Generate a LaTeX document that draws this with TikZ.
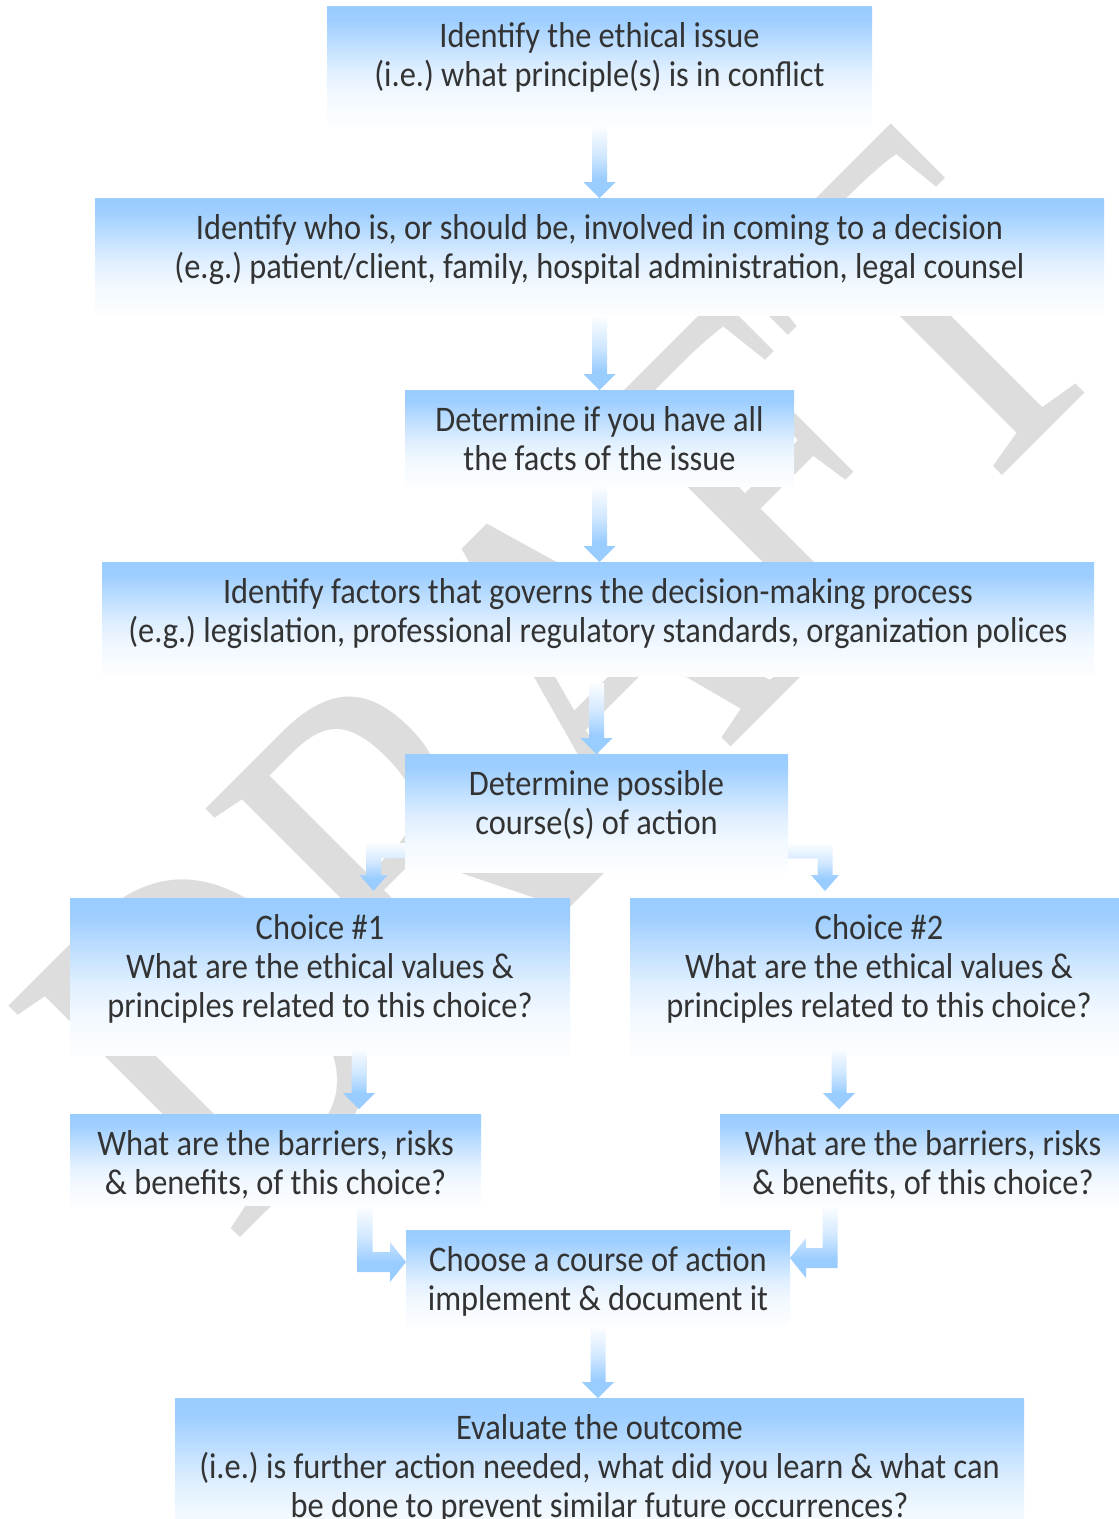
\documentclass[tikz,border=0pt]{standalone}
\usepackage{fontspec}
\setmainfont{Carlito}[FakeStretch=0.90]
\newfontfamily\wmfont{Liberation Serif}[FakeStretch=0.772]
\usetikzlibrary{calc}
\frenchspacing
\definecolor{boxblue}{RGB}{153,204,255}
\definecolor{txtgray}{RGB}{51,51,51}
\definecolor{wmgray}{RGB}{221,221,221}
\colorlet{bsA}{boxblue!95!white}
\colorlet{bsB}{boxblue!62!white}
\colorlet{bsC}{boxblue!30!white}
\colorlet{bsD}{boxblue!12!white}
\colorlet{bsE}{boxblue!3!white}
\colorlet{asA}{boxblue!4!white}
\colorlet{asB}{boxblue!45!white}
\pgfdeclareverticalshading{boxshade}{100bp}{color(0bp)=(bsE); color(25bp)=(bsE); color(37.5bp)=(bsD); color(47.5bp)=(bsC); color(58.5bp)=(bsB); color(69bp)=(bsA); color(75bp)=(boxblue); color(100bp)=(boxblue)}
\pgfdeclareverticalshading{arrowshade}{100bp}{color(0bp)=(boxblue); color(25bp)=(boxblue); color(38bp)=(boxblue); color(55bp)=(asB); color(75bp)=(asA); color(100bp)=(asA)}
\tikzset{
  flowbox/.style={rectangle, inner sep=0pt, outer sep=0pt, shade, shading=boxshade, draw=none, anchor=north west},
  boxtext/.style={align=center, inner sep=0pt, text=txtgray, font=\fontsize{36}{39}\selectfont, anchor=base},
  blockarrow/.style={shade, shading=arrowshade, draw=none},
  watermark/.style={anchor=base west, rotate=45, inner sep=0pt, text=wmgray, font=\wmfont\fontsize{500}{500}\selectfont}
}
% straight block arrow pointing down
\newcommand{\vblock}[2]{\path[blockarrow] let \p1=(#1), \p2=(#2) in
  (\x1-7.5pt,\y1) -- (\x1+7.5pt,\y1) -- (\x1+7.5pt,\y2+16pt) -- (\x1+16pt,\y2+16pt) -- (\x1,\y2)
  -- (\x1-16pt,\y2+16pt) -- (\x1-7.5pt,\y2+16pt) -- cycle;}
% elbow: left then down
\newcommand{\elbowLD}[3]{\path[blockarrow] let \p1=(#1), \p2=(#2), \p3=(#3) in
  (\x1,\y1+7.5pt) -- (\x2-7.5pt,\y1+7.5pt) -- (\x2-7.5pt,\y3+16pt) -- (\x2-14pt,\y3+16pt) -- (\x2,\y3)
  -- (\x2+14pt,\y3+16pt) -- (\x2+7.5pt,\y3+16pt) -- (\x2+7.5pt,\y1-7.5pt) -- (\x1,\y1-7.5pt) -- cycle;}
% elbow: right then down
\newcommand{\elbowRD}[3]{\path[blockarrow] let \p1=(#1), \p2=(#2), \p3=(#3) in
  (\x1,\y1+7.5pt) -- (\x2+7.5pt,\y1+7.5pt) -- (\x2+7.5pt,\y3+16pt) -- (\x2+14pt,\y3+16pt) -- (\x2,\y3)
  -- (\x2-14pt,\y3+16pt) -- (\x2-7.5pt,\y3+16pt) -- (\x2-7.5pt,\y1-7.5pt) -- (\x1,\y1-7.5pt) -- cycle;}
% elbow: down then right
\newcommand{\elbowDR}[3]{\path[blockarrow] let \p1=(#1), \p2=(#2), \p3=(#3) in
  (\x1-7.5pt,\y1) -- (\x1-7.5pt,\y2-10pt) -- (\x3-16pt,\y2-10pt) -- (\x3-16pt,\y2-20pt) -- (\x3,\y2)
  -- (\x3-16pt,\y2+20pt) -- (\x3-16pt,\y2+10pt) -- (\x1+7.5pt,\y2+10pt) -- (\x1+7.5pt,\y1) -- cycle;}
% elbow: down then left
\newcommand{\elbowDL}[3]{\path[blockarrow] let \p1=(#1), \p2=(#2), \p3=(#3) in
  (\x1+7.5pt,\y1) -- (\x1+7.5pt,\y2-10pt) -- (\x3+16pt,\y2-10pt) -- (\x3+16pt,\y2-20pt) -- (\x3,\y2)
  -- (\x3+16pt,\y2+20pt) -- (\x3+16pt,\y2+10pt) -- (\x1-7.5pt,\y2+10pt) -- (\x1-7.5pt,\y1) -- cycle;}
\begin{document}
\begin{tikzpicture}[x=1pt,y=1pt]
\useasboundingbox (0,0) rectangle (1119,-1519);
\clip (0,0) rectangle (1119,-1519);
\fill[white] (0,0) rectangle (1119,-1519);
% watermark
\node[watermark] (wm) at (232,-1246) {DRAFT};
% boxes
\node[flowbox, minimum width=545pt, minimum height=119pt] (b1) at (327,-6) {};
\node[flowbox, minimum width=1009pt, minimum height=117pt] (b2) at (95,-198) {};
\node[flowbox, minimum width=389pt, minimum height=96pt] (b3) at (405,-390) {};
\node[flowbox, minimum width=992pt, minimum height=114pt] (b4) at (102,-562) {};
\node[flowbox, minimum width=383pt, minimum height=118pt] (b5) at (405,-754) {};
\node[flowbox, minimum width=500pt, minimum height=157pt] (b6) at (70,-898) {};
\node[flowbox, minimum width=498pt, minimum height=157pt] (b7) at (630,-898) {};
\node[flowbox, minimum width=411pt, minimum height=91pt] (b8) at (70,-1114) {};
\node[flowbox, minimum width=406pt, minimum height=91pt] (b9) at (720,-1114) {};
\node[flowbox, minimum width=384pt, minimum height=95pt] (b10) at (406,-1230) {};
\node[flowbox, minimum width=849pt, minimum height=157pt] (b11) at (175,-1398) {};
% texts (anchor = baseline of the last line)
\node[boxtext] (t1) at ($(b1.north)+(0,-80.7)$) {Identify the ethical issue\\(i.e.) what principle(s) is in conflict};
\node[boxtext] (t2) at ($(b2.north)+(0,-80.7)$) {Identify who is, or should be, involved in coming to a decision\\(e.g.) patient/client, family, hospital administration, legal counsel};
\node[boxtext] (t3) at ($(b3.north)+(0,-80.7)$) {Determine if you have all\\the facts of the issue};
\node[boxtext] (t4) at ($(b4.north)+(0,-80.7)$) {Identify factors that governs the decision-making process\\(e.g.) legislation, professional regulatory standards, organization polices};
\node[boxtext] (t5) at ($(b5.north)+(0,-80.7)$) {Determine possible\\course(s) of action};
\node[boxtext] (t6) at ($(b6.north)+(0,-119.7)$) {Choice \#1\\What are the ethical values \&\\principles related to this choice?};
\node[boxtext] (t7) at ($(b7.north)+(0,-119.7)$) {Choice \#2\\What are the ethical values \&\\principles related to this choice?};
\node[boxtext] (t8) at ($(b8.north)+(0,-80.7)$) {What are the barriers, risks\\\& benefits, of this choice?};
\node[boxtext] (t9) at ($(b9.north)+(0,-80.7)$) {What are the barriers, risks\\\& benefits, of this choice?};
\node[boxtext] (t10) at ($(b10.north)+(0,-80.7)$) {Choose a course of action\\implement \& document it};
\node[boxtext] (t11) at ($(b11.north)+(0,-119.7)$) {Evaluate the outcome\\(i.e.) is further action needed, what did you learn \& what can\\be done to prevent similar future occurrences?};
% straight arrows
\coordinate (a1s) at ($(b1.south)+(0,-2)$);
\coordinate (a2s) at ($(b2.south)+(0,-2)$);
\coordinate (a3s) at ($(b3.south)+(0,-1)$);
\coordinate (a4s) at ($(b4.south -| b5.north)+(0,-7)$);
\coordinate (a5s) at ($(b6.south)+(39,7)$);
\coordinate (a6s) at ($(b7.south)+(-40,7)$);
\coordinate (a7s) at ($(b10.south)+(0,-3)$);
\vblock{a1s}{a1s |- b2.north}
\vblock{a2s}{a2s |- b3.north}
\vblock{a3s}{a3s |- b4.north}
\vblock{a4s}{a4s |- b5.north}
\vblock{a5s}{$(a5s |- b8.north)+(0,5)$}
\vblock{a6s}{$(a6s |- b9.north)+(0,5)$}
\vblock{a7s}{a7s |- b11.north}
% elbow arrows
\coordinate (e1s) at ($(b5.south west)+(0,21.5)$);
\coordinate (e1e) at ($(e1s)+(-31.5,0)$);
\coordinate (e1t) at ($(e1e |- b6.north)+(0,7)$);
\elbowLD{e1s}{e1e}{e1t}
\coordinate (e2s) at ($(b5.south east)+(0,21)$);
\coordinate (e2e) at ($(e2s)+(37,0)$);
\coordinate (e2t) at ($(e2e |- b7.north)+(0,7)$);
\elbowRD{e2s}{e2e}{e2t}
\coordinate (e3s) at ($(b8.south)+(89.5,-2)$);
\coordinate (e3e) at ($(e3s)+(0,-55)$);
\coordinate (e3t) at (e3e -| b10.west);
\elbowDR{e3s}{e3e}{e3t}
\coordinate (e4s) at ($(b9.south)+(-93,-2)$);
\coordinate (e4e) at ($(e4s)+(0,-51)$);
\coordinate (e4t) at (e4e -| b10.east);
\elbowDL{e4s}{e4e}{e4t}
\end{tikzpicture}
\end{document}
